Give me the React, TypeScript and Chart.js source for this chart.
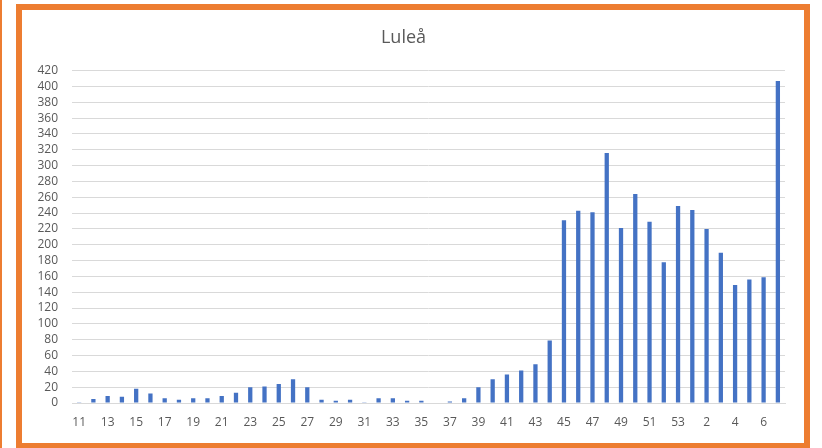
import React, { useEffect, useRef } from "react";
import { Chart, registerables } from "chart.js";

Chart.register(...registerables);

const weeks: string[] = [
  "11", "12", "13", "14", "15", "16", "17", "18", "19", "20",
  "21", "22", "23", "24", "25", "26", "27", "28", "29", "30",
  "31", "32", "33", "34", "35", "36", "37", "38", "39", "40",
  "41", "42", "43", "44", "45", "46", "47", "48", "49", "50",
  "51", "52", "53", "1", "2", "3", "4", "5", "6", "7",
];

const cases: number[] = [
  1, 5, 9, 8, 18, 12, 6, 4, 6, 6,
  9, 13, 20, 21, 24, 30, 20, 4, 3, 4,
  1, 6, 6, 3, 3, 0, 2, 6, 20, 30,
  36, 41, 49, 79, 231, 243, 241, 316, 221, 264,
  229, 178, 249, 244, 220, 190, 149, 156, 159, 407,
];

const titleText = "Luleå";
const yMax = 420;
const yStep = 20;

const FONT = "'Open Sans', 'Noto Sans', sans-serif";
const TEXT = "#595959";

export default function App() {
  const ref = useRef<HTMLCanvasElement | null>(null);

  useEffect(() => {
    if (!ref.current) return;
    const chart = new Chart(ref.current, {
      type: "bar",
      data: {
        labels: weeks,
        datasets: [
          {
            data: cases,
            backgroundColor: "#4472C4",
            barPercentage: 0.3,
            categoryPercentage: 1,
          },
        ],
      },
      options: {
        animation: false,
        responsive: false,
        maintainAspectRatio: false,
        layout: { padding: { left: 0, right: 19, top: 0, bottom: 0 } },
        plugins: {
          legend: { display: false },
          tooltip: { enabled: false },
          title: {
            display: true,
            text: titleText,
            color: TEXT,
            font: { family: FONT, size: 18, weight: "normal" },
            padding: { top: 17, bottom: 22 },
          },
        },
        scales: {
          x: {
            grid: { display: false, drawTicks: false },
            border: { display: true, color: "#d9d9d9" },
            ticks: {
              autoSkip: false,
              maxRotation: 0,
              padding: 12,
              color: TEXT,
              font: { family: FONT, size: 12 },
              callback: (_v: any, i: number) => (i % 2 === 0 ? weeks[i] : ""),
            },
            afterFit: (s: any) => {
              s.height = 36;
            },
          },
          y: {
            min: 0,
            max: yMax,
            grid: { color: "#d9d9d9", drawTicks: false },
            border: { display: false },
            ticks: {
              autoSkip: false,
              stepSize: yStep,
              padding: 14,
              color: TEXT,
              font: { family: FONT, size: 12 },
            },
            afterFit: (s: any) => {
              s.width = 50;
            },
          },
        },
      },
    });
    return () => chart.destroy();
  }, []);

  return (
    <div
      style={{
        position: "fixed",
        left: 0,
        top: 0,
        width: 822,
        height: 448,
        background: "#ffffff",
        overflow: "hidden",
      }}
    >
      <div
        style={{
          position: "absolute",
          left: 0,
          top: 0,
          width: 2,
          height: 448,
          background: "#ED7D31",
        }}
      />
      <div
        style={{
          position: "absolute",
          left: 16,
          top: 4,
          width: 794,
          height: 450,
          boxSizing: "border-box",
          borderStyle: "solid",
          borderColor: "#ED7D31",
          borderWidth: "6px 6px 11px 6px",
          background: "#ffffff",
        }}
      />
      <canvas
        ref={ref}
        width={782}
        height={429}
        style={{ position: "absolute", left: 22, top: 10, width: 782, height: 429 }}
      />
    </div>
  );
}
